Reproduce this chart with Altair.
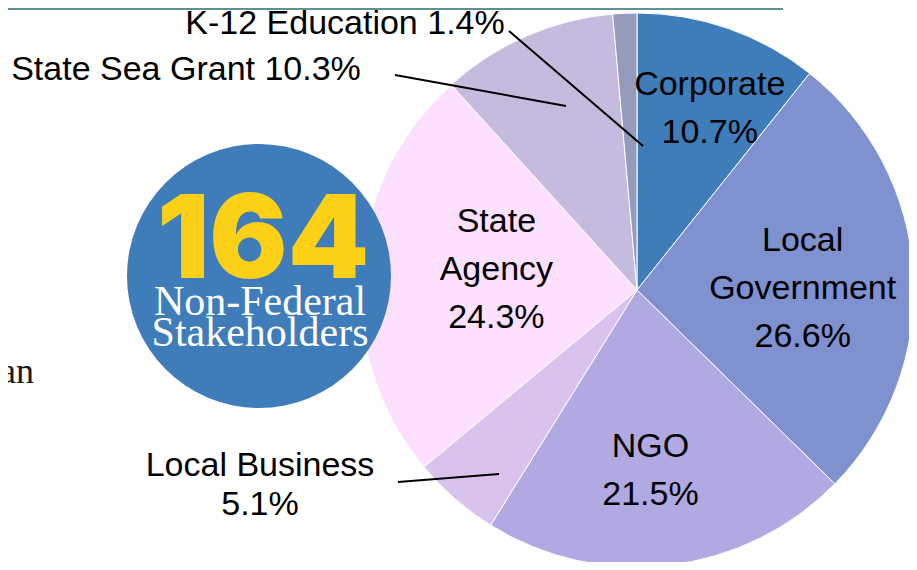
import math
import altair as alt
import pandas as pd

# ---------------- data ----------------
categories = ["Corporate", "Local Government", "NGO", "Local Business",
              "State Agency", "State Sea Grant", "K-12 Education"]
shares = [10.7, 26.6, 21.5, 5.1, 24.3, 10.3, 1.4]
colors = ["#3f7cba", "#7f91cf", "#b1a9e1", "#d9c3ee", "#fde0fd", "#c5bbde", "#949bbb"]
label_names = ["Corporate", "Local\nGovernment", "NGO", "Local Business",
               "State\nAgency", "State Sea Grant", "K-12 Education"]
label_seps = ["\n", "\n", "\n", "\n", "\n", " ", " "]

badge_number = "164"
badge_lines = ["Non-Federal", "Stakeholders"]
side_text = "an"

df = pd.DataFrame({
    "category": categories,
    "share": shares,
    "order": list(range(len(categories))),
    "label": [f"{n}{s}{v}%" for n, s, v in zip(label_names, label_seps, shares)],
})

# ---------------- layout ----------------
W, H = 901, 554
CX, CY, R = 629, 282, 277
FONT = "Liberation Sans"
FS = 34

base = alt.Chart(df)

pie = base.mark_arc(radius=R, stroke="white", strokeWidth=1).encode(
    theta=alt.Theta("share:Q", stack=True),
    order=alt.Order("order:Q"),
    color=alt.Color("category:N", scale=alt.Scale(domain=categories, range=colors), legend=None),
    x=alt.value(CX), y=alt.value(CY),
)

# inner labels: (radius, dx, dy)  -- dy includes the multi-line shift
inner = {
    "Corporate": (190, 10, -26),
    "Local Government": (166, 0, -39),
    "NGO": (180, -8, -22),
    "State Agency": (141, 0, -58),
}
layers = [pie]
for cat, (rad, ddx, ddy) in inner.items():
    layers.append(
        base.transform_window(cum="sum(share)", sort=[alt.SortField("order")])
        .transform_calculate(mid="datum.cum - datum.share / 2")
        .transform_filter(alt.datum.category == cat)
        .mark_text(radius=rad, dx=ddx, dy=ddy, font=FONT, fontSize=FS, lineBreak="\n",
                   lineHeight=48, align="center", baseline="middle", color="black")
        .encode(theta=alt.Theta("mid:Q"), text="label:N", x=alt.value(CX), y=alt.value(CY))
    )

# outer labels: (x, y of first line, lineHeight)
outer = {
    "Local Business": (252, 458, 39),
    "State Sea Grant": (178, 62, 48),
    "K-12 Education": (337, 16, 48),
}
for cat, (lx, ly, lh) in outer.items():
    layers.append(
        base.transform_filter(alt.datum.category == cat)
        .mark_text(font=FONT, fontSize=FS, lineBreak="\n", lineHeight=lh,
                   align="center", baseline="middle", color="black")
        .encode(text="label:N", x=alt.value(lx), y=alt.value(ly))
    )

# leader lines
leaders = [
    ((501, 23), (635, 138)),
    ((387, 67), (558, 98)),
    ((390, 474), (491, 466)),
]
for (x1, y1), (x2, y2) in leaders:
    layers.append(
        alt.Chart(df).transform_filter(alt.datum.order == 0)
        .mark_rule(color="black", strokeWidth=2)
        .encode(x=alt.value(x1), y=alt.value(y1), x2=alt.value(x2), y2=alt.value(y2))
    )

# badge
BX, BY, BR = 251, 268, 132
one = pd.DataFrame({"t": [badge_number]})
layers.append(
    alt.Chart(one).mark_circle(color="#3f7cba", opacity=1).encode(
        x=alt.value(BX), y=alt.value(BY), size=alt.value((2 * BR) ** 2))
)
layers.append(
    alt.Chart(one).mark_text(font="Inter", fontWeight=900, fontSize=116, color="#fbd016",
                             align="center", baseline="middle")
    .encode(text="t:N", x=alt.value(BX + 4), y=alt.value(235))
)
for i, line in enumerate(badge_lines):
    layers.append(
        alt.Chart(pd.DataFrame({"t": [line]})).mark_text(
            font="Liberation Serif", fontSize=42, color="white", align="center",
            baseline="alphabetic")
        .encode(text="t:N", x=alt.value(BX + 1), y=alt.value(307 + 31 * i))
    )

# side text and top rule
layers.append(
    alt.Chart(pd.DataFrame({"t": [side_text]})).mark_text(
        font="Liberation Serif", fontSize=36, color="#1a1a1a", align="right",
        baseline="alphabetic")
    .encode(text="t:N", x=alt.value(26), y=alt.value(375))
)
layers.append(
    alt.Chart(one).mark_rule(color="#5e9292", strokeWidth=2)
    .encode(x=alt.value(0), x2=alt.value(775), y=alt.value(1))
)

chart = alt.layer(*layers).properties(
    width=W, height=H, autosize="none", padding=0, background="white"
).configure_view(stroke=None)

chart.save("out.html", embed_options={"renderer": "svg", "actions": False})
